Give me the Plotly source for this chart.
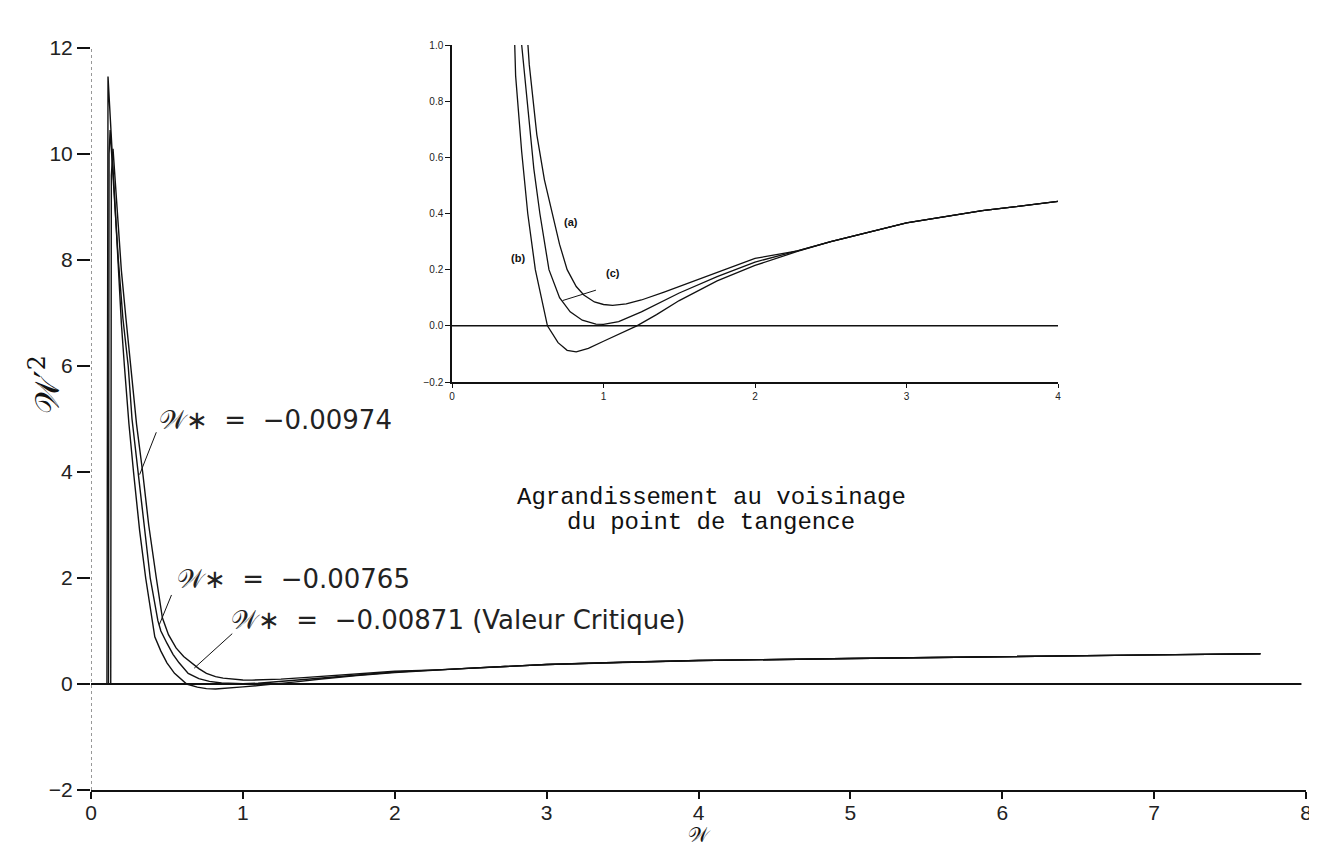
import plotly.graph_objects as go

# ---- data ----
# curve (a)  W* = -0.00765 (stays above zero)
w_a = [0.130, 0.134, 0.145, 0.170, 0.200, 0.230, 0.260, 0.300, 0.340, 0.380, 0.430, 0.470, 0.510, 0.560,
       0.610, 0.660, 0.710, 0.760, 0.820, 0.870, 0.940, 1.000, 1.060, 1.150, 1.250, 1.400, 1.500, 1.750,
       2.000, 2.280, 2.500, 3.000, 3.500, 4.000, 5.000, 6.000, 7.000, 7.700]
v_a = [0.0, 9.6, 10.1, 9.0, 7.8, 6.9, 6.0, 4.9, 4.0, 3.0, 2.0, 1.25, 0.93, 0.68,
       0.52, 0.40, 0.29, 0.20, 0.14, 0.11, 0.085, 0.076, 0.073, 0.078, 0.092, 0.12, 0.14, 0.19,
       0.24, 0.267, 0.30, 0.367, 0.41, 0.443, 0.48, 0.52, 0.55, 0.57]

# curve (c)  W* = -0.00871 (critical value, tangent to zero)
w_c = [0.115, 0.119, 0.126, 0.150, 0.180, 0.210, 0.245, 0.270, 0.310, 0.350, 0.390, 0.440, 0.460, 0.500,
       0.540, 0.580, 0.640, 0.710, 0.780, 0.860, 0.950, 1.000, 1.100, 1.250, 1.500, 1.750, 2.000, 2.280,
       2.500, 3.000, 3.500, 4.000, 5.000, 6.000, 7.000, 7.700]
v_c = [0.0, 10.0, 10.45, 9.3, 8.0, 6.9, 6.0, 5.0, 4.0, 3.0, 2.0, 1.2, 1.0, 0.77,
       0.56, 0.40, 0.20, 0.10, 0.05, 0.02, 0.006, 0.005, 0.015, 0.05, 0.117, 0.175, 0.227, 0.267,
       0.30, 0.367, 0.41, 0.443, 0.48, 0.52, 0.55, 0.57]

# curve (b)  W* = -0.00974 (dips below zero)
w_b = [0.105, 0.108, 0.112, 0.140, 0.170, 0.200, 0.220, 0.250, 0.280, 0.320, 0.360, 0.400, 0.420, 0.460,
       0.500, 0.550, 0.600, 0.630, 0.700, 0.760, 0.820, 0.900, 1.000, 1.100, 1.220, 1.350, 1.500, 1.750,
       2.000, 2.280, 2.500, 3.000, 3.500, 4.000, 5.000, 6.000, 7.000, 7.700]
v_b = [0.0, 11.0, 11.46, 10.0, 8.3, 6.8, 6.0, 4.9, 4.0, 2.9, 2.0, 1.2, 0.89, 0.62,
       0.40, 0.20, 0.07, 0.0, -0.06, -0.087, -0.093, -0.08, -0.055, -0.03, 0.0, 0.04, 0.09, 0.16,
       0.215, 0.265, 0.30, 0.367, 0.41, 0.443, 0.48, 0.52, 0.55, 0.57]

main_xticks = [0, 1, 2, 3, 4, 5, 6, 7, 8]
main_yticks = [-2, 0, 2, 4, 6, 8, 10, 12]
inset_xticks = [0, 1, 2, 3, 4]
inset_yticks = [-0.2, 0.0, 0.2, 0.4, 0.6, 0.8, 1.0]

W = "\U0001D4B2"
labels_main = [W + "\u2217\u00a0\u00a0=\u00a0\u00a0\u22120.00974",
               W + "\u2217\u00a0\u00a0=\u00a0\u00a0\u22120.00765",
               W + "\u2217\u00a0\u00a0=\u00a0\u00a0\u22120.00871\u00a0(Valeur\u00a0Critique)"]
inset_labels = ["(a)", "(b)", "(c)"]
caption = ["Agrandissement au voisinage", "du point de tangence"]

# the page body has an 8px margin: size the figure so it fits, and map window pixels
OFF = 8
W_PX, H_PX = 1317 - OFF, 848 - OFF
def px(x): return (x - OFF) / W_PX
def py(y): return 1 - (y - OFF) / H_PX

fig = go.Figure()
for w, v in [(w_a, v_a), (w_c, v_c), (w_b, v_b)]:
    fig.add_trace(go.Scatter(x=w, y=v, mode="lines", line=dict(color="#111", width=1.4),
                             xaxis="x", yaxis="y", hoverinfo="skip"))
    # inset shows only the descending branch after the peak
    k = v.index(max(v))
    fig.add_trace(go.Scatter(x=w[k:], y=v[k:], mode="lines", line=dict(color="#111", width=1.3),
                             xaxis="x2", yaxis="y2", hoverinfo="skip"))

tickfont = dict(family="Liberation Sans", size=21, color="#222")
small = dict(family="Liberation Sans", size=10, color="#222")
fig.update_layout(
    width=W_PX, height=H_PX, margin=dict(l=0, r=0, t=0, b=0, autoexpand=False),
    paper_bgcolor="white", plot_bgcolor="white", showlegend=False,
    xaxis=dict(domain=[px(91), px(1306)], range=[0, 8], anchor="y", showline=True, linecolor="#111",
               linewidth=2, ticks="outside", ticklen=7, tickwidth=1.5, tickcolor="#111",
               ticklabelstandoff=-4,
               tickvals=main_xticks, tickfont=tickfont, showgrid=False, zeroline=False, automargin=False),
    yaxis=dict(domain=[py(790), py(48)], range=[-2, 12], anchor="x", showline=False,
               ticks="outside", ticklen=13, tickwidth=2, tickcolor="#111",
               tickvals=main_yticks, tickfont=tickfont, showgrid=False, zeroline=False, automargin=False),
    xaxis2=dict(domain=[px(452), px(1058)], range=[0, 4], anchor="y2", showline=True, linecolor="#111",
                linewidth=1.5, ticks="outside", ticklen=4, tickcolor="#111", tickvals=inset_xticks,
                tickfont=small, showgrid=False, zeroline=False, automargin=False),
    yaxis2=dict(domain=[py(382), py(45)], range=[-0.2, 1.0], anchor="x2", showline=True, linecolor="#111",
                linewidth=1.5, ticks="outside", ticklen=5, tickcolor="#111", tickvals=inset_yticks,
                tickformat=".1f", tickfont=small, showgrid=False, zeroline=False, automargin=False),
)

shapes = [
    # dotted main y axis
    dict(type="line", xref="x", yref="y", x0=0, x1=0, y0=-2, y1=12.1,
         line=dict(color="#777", width=1.5, dash="dot")),
    # main zero line
    dict(type="line", xref="x", yref="y", x0=-0.09, x1=7.97, y0=0, y1=0,
         line=dict(color="#111", width=2)),
    # inset zero line
    dict(type="line", xref="x2", yref="y2", x0=0, x1=4, y0=0, y1=0,
         line=dict(color="#111", width=1.5)),
    # pointers main
    dict(type="line", xref="x", yref="y", x0=0.43, y0=4.75, x1=0.32, y1=3.95, line=dict(color="#111", width=1)),
    dict(type="line", xref="x", yref="y", x0=0.53, y0=1.68, x1=0.45, y1=1.12, line=dict(color="#111", width=1)),
    dict(type="line", xref="x", yref="y", x0=0.93, y0=0.95, x1=0.68, y1=0.3, line=dict(color="#111", width=1)),
    # pointer inset (c)
    dict(type="line", xref="x2", yref="y2", x0=0.73, y0=0.09, x1=0.95, y1=0.127, line=dict(color="#111", width=1)),
]
fig.update_layout(shapes=shapes)

afont = dict(family="DejaVu Sans", size=26, color="#222")
ann = [
    dict(text=labels_main[0], x=px(157), y=py(420), xanchor="left", yanchor="middle", font=afont),
    dict(text=labels_main[1], x=px(175), y=py(579), xanchor="left", yanchor="middle", font=afont),
    dict(text=labels_main[2], x=px(229), y=py(620), xanchor="left", yanchor="middle", font=afont),
    dict(text=caption[0], x=px(711), y=py(497), xanchor="center", yanchor="middle",
         font=dict(family="Liberation Mono", size=24, color="#111")),
    dict(text=caption[1], x=px(711), y=py(522), xanchor="center", yanchor="middle",
         font=dict(family="Liberation Mono", size=24, color="#111")),
    dict(text=W + "\u2032<sup>2</sup>", x=px(45), y=py(385), xanchor="center", yanchor="middle",
         textangle=-90, font=dict(family="DejaVu Serif", size=34, color="#111")),
    dict(text=W, x=px(699), y=py(849), xanchor="center", yanchor="bottom",
         font=dict(family="DejaVu Serif", size=20, color="#111")),
    dict(text="<b>" + inset_labels[0] + "</b>", x=px(571), y=py(222), xanchor="center", yanchor="middle",
         font=dict(family="Liberation Sans", size=11, color="#111")),
    dict(text="<b>" + inset_labels[1] + "</b>", x=px(518), y=py(258), xanchor="center", yanchor="middle",
         font=dict(family="Liberation Sans", size=11, color="#111")),
    dict(text="<b>" + inset_labels[2] + "</b>", x=px(613), y=py(273), xanchor="center", yanchor="middle",
         font=dict(family="Liberation Sans", size=11, color="#111")),
]
for a in ann:
    a.update(xref="paper", yref="paper", showarrow=False)
fig.update_layout(annotations=ann)

fig.write_html("out.html")
